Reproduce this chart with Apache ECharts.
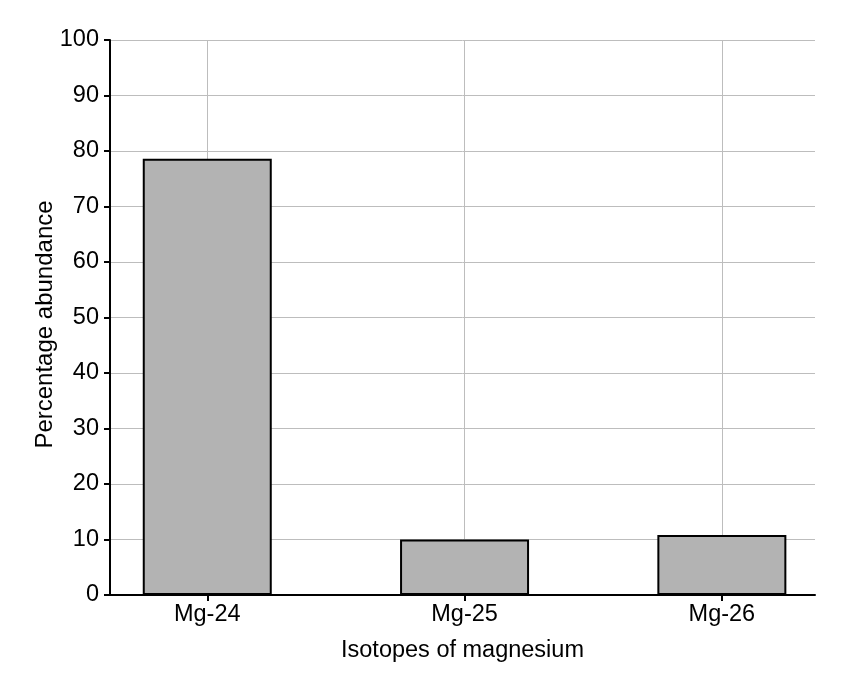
<!DOCTYPE html>
<html>
<head>
<meta charset="utf-8">
<script src="https://cdn.jsdelivr.net/npm/echarts@6/dist/echarts.min.js"></script>
<style>
html,body{margin:0;padding:0;background:#fff;}
#chart{width:854px;height:676px;}
</style>
</head>
<body>
<div id="chart"></div>
<script>
const categories = ['Mg-24', 'Mg-25', 'Mg-26'];
const abundance = [78.6, 10.0, 10.8];
const yTicks = [0, 10, 20, 30, 40, 50, 60, 70, 80, 90, 100];

const positions = categories.map((c, i) => i);
const barData = abundance.map((v, i) => [positions[i], v]);

const FONT = '"Liberation Sans", Arial, sans-serif';
const FS = 23.5;
const chart = echarts.init(document.getElementById('chart'));
chart.setOption({
  animation: false,
  backgroundColor: '#ffffff',
  grid: { left: 110, right: 39, top: 40, bottom: 81, containLabel: false },
  xAxis: {
    type: 'value',
    min: -0.378,
    max: 2.362,
    name: 'Isotopes of magnesium',
    nameLocation: 'middle',
    nameGap: 44,
    nameMoveOverlap: false,
    nameTextStyle: { color: '#000', fontSize: FS, fontFamily: FONT },
    axisLine: { show: true, onZero: false, lineStyle: { color: '#000', width: 2 } },
    axisTick: { show: true, length: 6, customValues: positions, lineStyle: { color: '#000', width: 2 } },
    axisLabel: {
      show: true, customValues: positions, margin: 8,
      color: '#000', fontSize: FS, fontFamily: FONT,
      formatter: v => categories[Math.round(v)] || ''
    },
    splitLine: { show: true, lineStyle: { color: '#bdbdbd', width: 1 } }
  },
  yAxis: {
    type: 'value',
    min: yTicks[0],
    max: yTicks[yTicks.length - 1],
    interval: 10,
    name: 'Percentage abundance',
    nameLocation: 'middle',
    nameGap: 53,
    nameMoveOverlap: false,
    nameTextStyle: { color: '#000', fontSize: 24, fontFamily: FONT, padding: [0, 14, 0, 0] },
    axisLine: { show: true, onZero: false, lineStyle: { color: '#000', width: 2 } },
    axisTick: { show: true, length: 6, lineStyle: { color: '#000', width: 2 } },
    axisLabel: { color: '#000', fontSize: FS, fontFamily: FONT, margin: 11 },
    splitLine: { show: true, lineStyle: { color: '#bdbdbd', width: 1 } }
  },
  series: [{
    type: 'bar',
    data: barData,
    barWidth: 129,
    itemStyle: { color: '#b3b3b3', borderColor: '#000', borderWidth: 2 }
  }]
});
</script>
</body>
</html>
